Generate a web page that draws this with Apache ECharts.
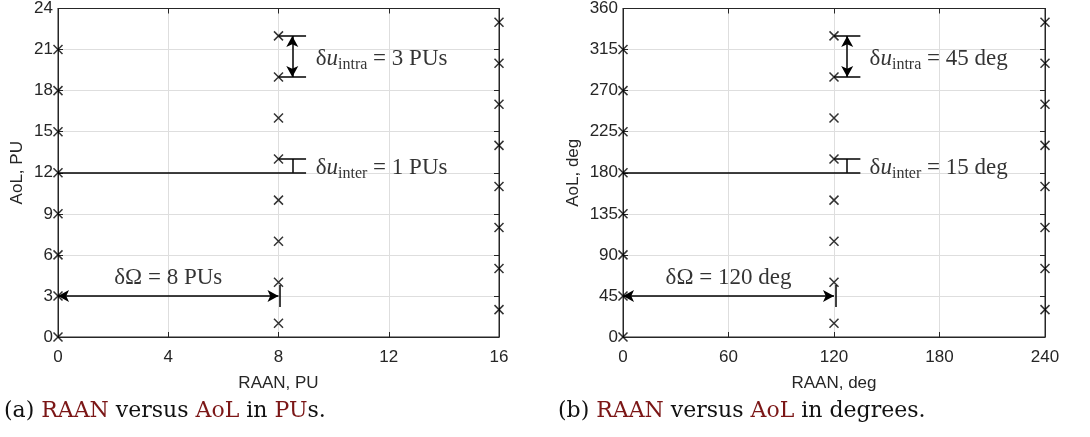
<!DOCTYPE html>
<html>
<head>
<meta charset="utf-8">
<script src="https://cdn.jsdelivr.net/npm/echarts@6/dist/echarts.min.js"></script>
<style>
  html, body { margin: 0; padding: 0; background: #fff; }
  #chart { width: 1090px; height: 437px; }
</style>
</head>
<body>
<div id="chart"></div>
<script>
// Satellite slots: RAAN (plane) vs argument of latitude, in phasing units and degrees
const raanTicksPU = [0, 4, 8, 12, 16];
const aolTicksPU = [0, 3, 6, 9, 12, 15, 18, 21, 24];
const raanTicksDeg = [0, 60, 120, 180, 240];
const aolTicksDeg = [0, 45, 90, 135, 180, 225, 270, 315, 360];

// Plane 1, 2, 3 in PUs
const plane1RaanPU = 0;
const plane1AolPU = [0, 3, 6, 9, 12, 15, 18, 21];
const plane2RaanPU = 8;
const plane2AolPU = [1, 4, 7, 10, 13, 16, 19, 22];
const plane3RaanPU = 16;
const plane3AolPU = [2, 5, 8, 11, 14, 17, 20, 23];

// Plane 1, 2, 3 in degrees
const plane1RaanDeg = 0;
const plane1AolDeg = [0, 45, 90, 135, 180, 225, 270, 315];
const plane2RaanDeg = 120;
const plane2AolDeg = [15, 60, 105, 150, 195, 240, 285, 330];
const plane3RaanDeg = 240;
const plane3AolDeg = [30, 75, 120, 165, 210, 255, 300, 345];

// Spacing annotations
const dOmegaPU = 8, dIntraPU = 3, dInterPU = 1;
const dOmegaDeg = 120, dIntraDeg = 45, dInterDeg = 15;

const captionA = ['(a) ', 'RAAN', ' versus ', 'AoL', ' in ', 'PU', 's.'];
const captionB = ['(b) ', 'RAAN', ' versus ', 'AoL', ' in degrees.'];

const INK = '#000';
const TXT = '#262626';
const symbolX = 'path://M0,0L10,10M10,0L0,10';
const SERIF = '"Liberation Serif", "Times New Roman", serif';
const SANS = '"Liberation Sans", Arial, Helvetica, sans-serif';

const chart = echarts.init(document.getElementById('chart'), null, { renderer: 'canvas' });

const gridBox = { show: true, borderColor: TXT, borderWidth: 1, backgroundColor: 'transparent' };
const grids = [
  Object.assign({ left: 58, right: 591, top: 7, bottom: 100 }, gridBox),
  Object.assign({ left: 623, right: 45, top: 7, bottom: 100 }, gridBox)
];

function axisBase(gi, max, step) {
  return {
    gridIndex: gi, type: 'value', min: 0, max: max, interval: step,
    axisLine: { show: true, onZero: false, lineStyle: { color: TXT, width: 1 } },
    axisTick: { show: true, inside: true, length: 5, lineStyle: { color: TXT } },
    splitLine: { show: false }
  };
}

function xAxesFor(gi, max, step, ticks, name) {
  return [
    Object.assign(axisBase(gi, max, step), {
      position: 'bottom',
      axisLabel: { color: TXT, fontFamily: SANS, fontSize: 17, margin: 12,
        formatter: v => (ticks.indexOf(v) >= 0 ? String(v) : '') },
      splitLine: { show: true, lineStyle: { color: '#dedede', width: 1 } },
      name: name, nameLocation: 'middle', nameGap: 38,
      nameTextStyle: { color: TXT, fontFamily: SANS, fontSize: 17 }
    }),
    Object.assign(axisBase(gi, max, step), { position: 'top', axisLabel: { show: false } })
  ];
}

function yAxesFor(gi, max, step, ticks, name) {
  return [
    Object.assign(axisBase(gi, max, step), {
      position: 'left',
      axisLabel: { color: TXT, fontFamily: SANS, fontSize: 17, margin: 5,
        formatter: v => (ticks.indexOf(v) >= 0 ? String(v) : '') },
      splitLine: { show: true, lineStyle: { color: '#dedede', width: 1 } },
      name: name, nameLocation: 'middle', nameGap: gi === 0 ? 32 : 41,
      nameTextStyle: { color: TXT, fontFamily: SANS, fontSize: 17 }
    }),
    Object.assign(axisBase(gi, max, step), { position: 'right', axisLabel: { show: false } })
  ];
}

function planeSeries(axisIdx, raan, aols) {
  return {
    type: 'scatter', xAxisIndex: axisIdx, yAxisIndex: axisIdx,
    data: aols.map(v => [raan, v]),
    symbol: symbolX, symbolSize: 9, clip: false, z: 5,
    itemStyle: { color: 'transparent', borderColor: INK, borderWidth: 1.5 }
  };
}

// Empty series so the mirrored top/right axes (box ticks) get laid out
function mirrorSeries(axisIdx) {
  return { type: 'scatter', xAxisIndex: axisIdx, yAxisIndex: axisIdx, data: [], silent: true };
}

const richText = {
  m: { fontFamily: SERIF, fontSize: 23, color: INK, lineHeight: 28, verticalAlign: 'middle' },
  u: { fontFamily: SERIF, fontSize: 23, fontStyle: 'italic', color: INK, lineHeight: 28, verticalAlign: 'middle' },
  s: { fontFamily: SERIF, fontSize: 16, color: INK, lineHeight: 16, verticalAlign: 'bottom' }
};

// Dimension markings (segments and arrows) plus their labels for one panel
function annotationSeries(axisIdx, raanStep, dOmega, dIntra, dInter, unit, scale) {
  // scale converts the PU-based layout of the markings to this panel's units
  const xEnd = 9 * scale;          // right end of the short reference lines
  const xArrow = 8.5 * scale;      // x position of vertical dimension arrows
  const yIntraTop = 22 * scale, yIntraBot = yIntraTop - dIntra;
  const yInterBot = 12 * scale, yInterTop = yInterBot + dInter;
  const yOmega = 3 * scale;
  const seg = (a, b) => [{ coord: a, symbol: 'none' }, { coord: b, symbol: 'none' }];
  const arr = (a, b) => [{ coord: a, symbol: 'arrow' }, { coord: b, symbol: 'arrow' }];
  return [
    {
      type: 'scatter', xAxisIndex: axisIdx, yAxisIndex: axisIdx,
      data: [], silent: true,
      markLine: {
        silent: true, animation: false,
        symbolSize: [9, 11],
        label: { show: false },
        lineStyle: { color: INK, width: 1.5, type: 'solid' },
        emphasis: { disabled: true },
        data: [
          seg([0, yInterBot], [xEnd, yInterBot]),
          seg([raanStep, yInterTop], [xEnd, yInterTop]),
          seg([xArrow, yInterBot], [xArrow, yInterTop]),
          seg([raanStep, yIntraTop], [xEnd, yIntraTop]),
          seg([raanStep, yIntraBot], [xEnd, yIntraBot]),
          arr([xArrow, yIntraTop], [xArrow, yIntraBot]),
          arr([0, yOmega], [dOmega, yOmega]),
          seg([raanStep + 0.05 * scale, yOmega + 0.8 * scale], [raanStep + 0.05 * scale, yOmega - 0.8 * scale])
        ]
      }
    },
    {
      type: 'scatter', xAxisIndex: axisIdx, yAxisIndex: axisIdx,
      symbolSize: 0, silent: true, clip: false,
      data: [
        { value: [9.35 * scale, yIntraBot + 1.3 * scale],
          label: { show: true, position: 'right', distance: 0,
            formatter: '{m|δ}{u|u}{s|intra}{m| = ' + dIntra + ' ' + unit + '}', rich: richText } },
        { value: [9.35 * scale, yInterBot + 0.35 * scale],
          label: { show: true, position: 'right', distance: 0,
            formatter: '{m|δ}{u|u}{s|inter}{m| = ' + dInter + ' ' + unit + '}', rich: richText } },
        { value: [dOmega / 2, yOmega + 1.3 * scale],
          label: { show: true, position: 'inside',
            formatter: '{m|δΩ = ' + dOmega + ' ' + unit + '}', rich: richText } }
      ]
    }
  ];
}

function caption(parts, x) {
  const text = parts.map((p, i) => (i % 2 === 1 ? '{r|' : '{k|') + p + '}').join('');
  return {
    type: 'text', left: x, top: 400,
    style: {
      text: text,
      rich: {
        k: { fontFamily: '"DejaVu Serif", serif', fontSize: 22, fill: '#111' },
        r: { fontFamily: '"DejaVu Serif", serif', fontSize: 22, fill: '#7b1616' }
      }
    }
  };
}

const xAxes = [].concat(
  xAxesFor(0, 16, 4, raanTicksPU, 'RAAN, PU'),
  xAxesFor(1, 240, 60, raanTicksDeg, 'RAAN, deg'));
const yAxes = [].concat(
  yAxesFor(0, 24, 3, aolTicksPU, 'AoL, PU'),
  yAxesFor(1, 360, 45, aolTicksDeg, 'AoL, deg'));

const series = [
  planeSeries(0, plane1RaanPU, plane1AolPU),
  planeSeries(0, plane2RaanPU, plane2AolPU),
  planeSeries(0, plane3RaanPU, plane3AolPU),
  planeSeries(2, plane1RaanDeg, plane1AolDeg),
  planeSeries(2, plane2RaanDeg, plane2AolDeg),
  planeSeries(2, plane3RaanDeg, plane3AolDeg),
  mirrorSeries(1),
  mirrorSeries(3)
].concat(
  annotationSeries(0, plane2RaanPU, dOmegaPU, dIntraPU, dInterPU, 'PUs', 1),
  annotationSeries(2, plane2RaanDeg, dOmegaDeg, dIntraDeg, dInterDeg, 'deg', 15)
);

chart.setOption({
  animation: false,
  backgroundColor: '#fff',
  grid: grids,
  xAxis: xAxes,
  yAxis: yAxes,
  series: series,
  graphic: [caption(captionA, 4), caption(captionB, 558)]
});
</script>
</body>
</html>
